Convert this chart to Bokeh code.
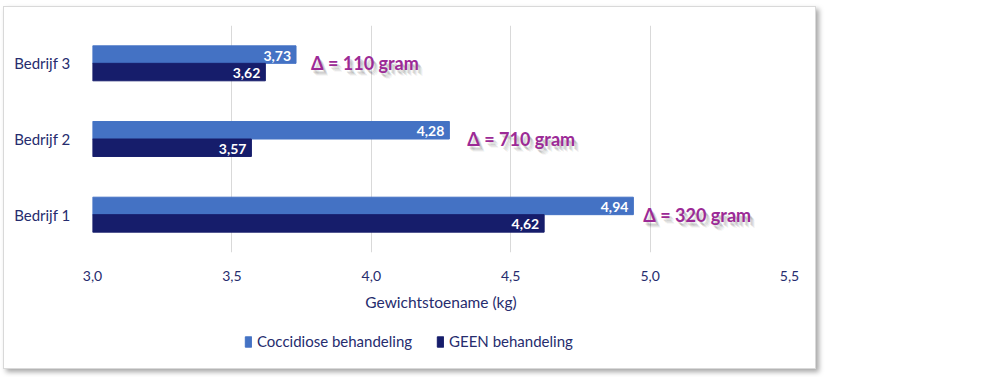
from bokeh.plotting import figure
from bokeh.layouts import column
from bokeh.models import ColumnDataSource, Legend, LegendItem, FactorRange, Range1d, FixedTicker, CustomJSTickFormatter
from bokeh.transform import dodge
from bokeh.core.properties import value
from bokeh.embed import file_html
from bokeh.resources import INLINE

categories = ["Bedrijf 1", "Bedrijf 2", "Bedrijf 3"]
coccidiose = [4.94, 4.28, 3.73]
geen = [4.62, 3.57, 3.62]
series_names = ["Coccidiose behandeling", "GEEN behandeling"]
x_ticks = [3.0, 3.5, 4.0, 4.5, 5.0, 5.5]
x_label = "Gewichtstoename (kg)"

FONT = "Lato"
LIGHT = "#4472C4"
DARK = "#161D6B"
NAVY = "#262C6E"
PURPLE = "#9C2A96"

def fmt(v):
    return f"{v:.2f}".replace(".", ",")

deltas = [round((c - g) * 1000) for c, g in zip(coccidiose, geen)]
src = ColumnDataSource(dict(
    cat=categories,
    cocc=coccidiose,
    geen=geen,
    cocc_lbl=[fmt(v) for v in coccidiose],
    geen_lbl=[fmt(v) for v in geen],
    top=[max(c, g) for c, g in zip(coccidiose, geen)],
    delta_lbl=[f"Δ = {d} gram" for d in deltas],
))
label_dx = [10, 18, 15]

W = 811
p = figure(width=W, height=311, y_range=FactorRange(*categories),
           x_range=Range1d(3.0, 5.5), output_backend="svg", toolbar_location=None,
           min_border_left=88, min_border_right=26, min_border_top=18, min_border_bottom=66)
p.outline_line_color = None
p.background_fill_color = "white"
p.border_fill_color = "white"

h = 0.231
r1 = p.hbar(y=dodge("cat", 0.1155, range=p.y_range), left=3.0, right="cocc", height=h,
            color=LIGHT, source=src)
r2 = p.hbar(y=dodge("cat", -0.1155, range=p.y_range), left=3.0, right="geen", height=h,
            color=DARK, source=src)

p.text(x="cocc", y=dodge("cat", 0.1155, range=p.y_range), text="cocc_lbl", source=src,
       text_align="right", text_baseline="middle", x_offset=-5, y_offset=1,
       text_color="white", text_font=value(FONT), text_font_style="bold", text_font_size="14px")
p.text(x="geen", y=dodge("cat", -0.1155, range=p.y_range), text="geen_lbl", source=src,
       text_align="right", text_baseline="middle", x_offset=-5, y_offset=1,
       text_color="white", text_font=value(FONT), text_font_style="bold", text_font_size="14px")

for i in range(len(categories)):
    sub = ColumnDataSource(dict(x=[src.data["top"][i]], y=[categories[i]], t=[src.data["delta_lbl"][i]]))
    for ox, oy, a in [(2, 3, 0.10), (3, 4, 0.10), (4, 5, 0.07), (5, 6, 0.04)]:
        p.text(x="x", y="y", text="t", source=sub, x_offset=label_dx[i] + ox, y_offset=oy,
               text_align="left", text_baseline="middle", text_color="black", text_alpha=a,
               text_font=value(FONT), text_font_style="bold", text_font_size="18px")
    p.text(x="x", y="y", text="t", source=sub, x_offset=label_dx[i], y_offset=0,
           text_align="left", text_baseline="middle", text_color=PURPLE,
           text_font=value(FONT), text_font_style="bold", text_font_size="18px")

p.xaxis.ticker = FixedTicker(ticks=x_ticks)
p.xaxis.formatter = CustomJSTickFormatter(code="return tick.toFixed(1).replace('.', ',');")
p.xaxis.axis_line_color = None
p.xaxis.major_tick_line_color = None
p.xaxis.minor_tick_line_color = None
p.xaxis.major_label_standoff = 12
p.xaxis.major_label_text_font = FONT
p.xaxis.major_label_text_font_size = "14px"
p.xaxis.major_label_text_color = NAVY
p.xaxis.axis_label = x_label
p.xaxis.axis_label_text_font = FONT
p.xaxis.axis_label_text_font_size = "15.5px"
p.xaxis.axis_label_text_font_style = "normal"
p.xaxis.axis_label_text_color = NAVY
p.xaxis.axis_label_standoff = 9

p.yaxis.axis_line_color = None
p.yaxis.major_tick_line_color = None
p.yaxis.minor_tick_line_color = None
p.yaxis.major_label_standoff = 16
p.yaxis.major_label_text_font = FONT
p.yaxis.major_label_text_font_size = "15px"
p.yaxis.major_label_text_color = NAVY

p.xgrid.ticker = FixedTicker(ticks=x_ticks)
p.xgrid.grid_line_color = "#d9d9d9"
p.ygrid.grid_line_color = None

# legend strip (swatch glyphs sit outside the visible range)
lf = figure(width=W, height=50, x_range=Range1d(0, 1), y_range=Range1d(0, 1),
            output_backend="svg", toolbar_location=None,
            x_axis_location=None, y_axis_location=None,
            min_border_left=0, min_border_right=0, min_border_top=0, min_border_bottom=0)
lf.grid.visible = False
lf.outline_line_color = None
lf.border_fill_color = "white"
l1 = lf.hbar(y=[-10], left=[0], right=[1], height=0.1, color=LIGHT)
l2 = lf.hbar(y=[-10], left=[0], right=[1], height=0.1, color=DARK)
legend = Legend(items=[LegendItem(label=series_names[0], renderers=[l1]),
                       LegendItem(label=series_names[1], renderers=[l2])],
                orientation="horizontal", location=(152, 18),
                label_text_font=FONT, label_text_font_size="15px", label_text_color=NAVY,
                glyph_width=8, glyph_height=13, label_standoff=5, spacing=24,
                border_line_color=None, background_fill_alpha=0, margin=0, padding=2)
lf.add_layout(legend, "center")

layout = column(p, lf, spacing=0)
layout.margin = (6, 0, 0, 3)
layout.styles = {"border": "1px solid #d9d9d9", "box-shadow": "3px 3px 5px rgba(0,0,0,0.35)",
                 "background-color": "white"}

open("out.html", "w").write(file_html(layout, INLINE))
